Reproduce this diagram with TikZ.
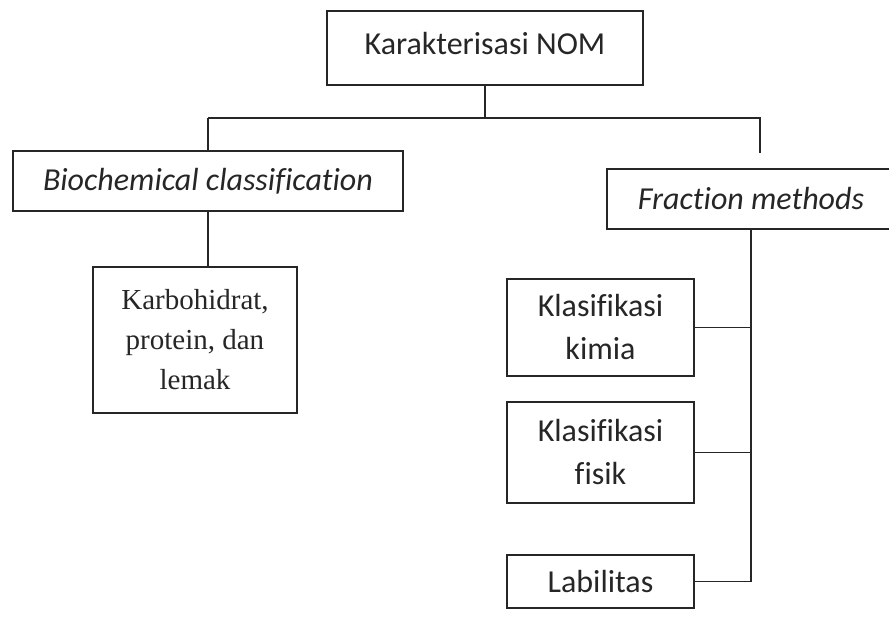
\documentclass[tikz,border=0pt]{standalone}
\usepackage{fontspec}
\setmainfont{Carlito}[Ligatures=NoCommon]
\newfontfamily\seriffont{Liberation Serif}
\usetikzlibrary{positioning}
\usetikzlibrary{calc}

\tikzset{
  box/.style={draw, inner sep=0pt, align=center,
    font=\fontsize{32}{43}\selectfont},
  conn/.style={line width=1.1pt, black!85},
}

\begin{document}
\begin{tikzpicture}[x=1pt, y=-1pt, line width=1.1pt, black!85]
    \useasboundingbox (0,0) rectangle (889,618);
    \def\branchy{118}
    \def\spinex{751}

    \node[box, minimum width=316pt, minimum height=74pt, text depth=10pt] (nom) at (485,48) {Karakterisasi NOM};
    \node[box, minimum width=390pt, minimum height=60pt] (bio) at (208,181) {\itshape Biochemical classification};
    \node[box, minimum width=288pt, minimum height=60pt] (frac) at (751,199) {\itshape Fraction methods};
    \node[box, minimum width=204pt, minimum height=146pt,
      font=\seriffont\fontsize{29}{40}\selectfont] (karbo) at (195,340) {Karbohidrat,\\protein, dan\\lemak};

    % branch under the top box
    \coordinate (split) at (nom.south |- 0,\branchy);
    \coordinate (left) at (bio.north |- split);
    \coordinate (right) at (760,\branchy);
    \coordinate (rightend) at (760,153);
    \draw[conn] (nom.south) -- (split);
    \draw[conn] (left) -- (right) -- (rightend);
    \draw[conn] (left) -- (bio.north);
    \draw[conn] (bio.south) -- (bio.south |- karbo.north);

    % methods on the right
    \coordinate (spine) at (\spinex,0);
    \foreach \name/\y/\h/\txt in {kimia/327.5/97pt/{Klasifikasi\\kimia},
                                  fisik/452.5/101pt/{Klasifikasi\\fisik},
                                  labil/581.5/53pt/Labilitas} {
      \node[box, minimum width=187pt, minimum height=\h] (\name) at (600.5,\y) {\txt};
      \draw[conn] (\name.east) -- (\name.east -| spine);
    }
    \draw[conn] (frac.south) -- (labil.east -| spine);
  \end{tikzpicture}
\end{document}
